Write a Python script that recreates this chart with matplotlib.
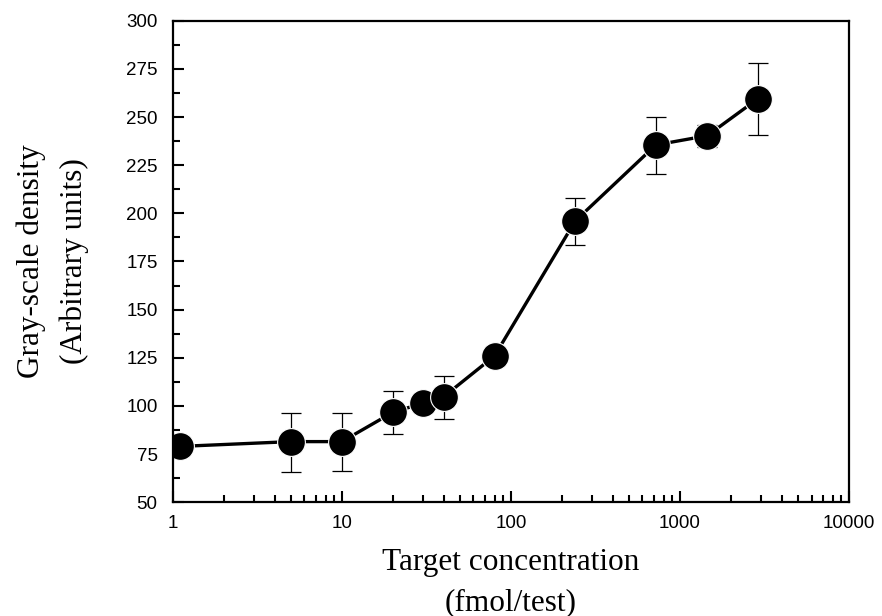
import matplotlib.pyplot as plt
from matplotlib.ticker import MultipleLocator, LogLocator, NullFormatter

conc = [1.1, 5, 10, 20, 30, 40, 80, 240, 720, 1450, 2900]
density = [79, 81.5, 81.5, 96.7, 101.4, 104.8, 126, 196, 235.5, 240.3, 259.6]
err_lo = [0, 15.6, 15.5, 11.4, 0, 11.6, 4.5, 12.2, 14.9, 6, 18.7]
err_hi = [0, 15, 15, 11.1, 0, 10.9, 4.5, 11.8, 14.4, 5.5, 18.6]

y_ticks = [50, 75, 100, 125, 150, 175, 200, 225, 250, 275, 300]
x_ticks = [1, 10, 100, 1000, 10000]
x_labels = ['1', '10', '100', '1000', '10000']

fig = plt.figure(figsize=(8.82, 6.16), dpi=100)
ax = fig.add_axes([0.196, 0.1846, 0.7666, 0.7818])

# error bars sit behind the markers
ax.errorbar(conc, density, yerr=[err_lo, err_hi], fmt='none', ecolor='black',
            elinewidth=0.9, capsize=7, capthick=0.9, zorder=1)
ax.plot(conc, density, '-', color='black', lw=2.4, marker='o', markersize=20,
        markerfacecolor='black', markeredgecolor='white', markeredgewidth=0.8, zorder=2)

ax.set_xscale('log')
ax.set_xlim(1, 10000)
ax.set_ylim(50, 300)
ax.set_xticks(x_ticks)
ax.set_xticklabels(x_labels)
ax.xaxis.set_minor_locator(LogLocator(base=10, subs=range(2, 10)))
ax.xaxis.set_minor_formatter(NullFormatter())
ax.set_yticks(y_ticks)
ax.yaxis.set_minor_locator(MultipleLocator(12.5))

for s in ax.spines.values():
    s.set_linewidth(1.6)

ax.tick_params(which='both', direction='in', top=False, right=False, width=1.5)
ax.tick_params(axis='y', which='major', length=8, labelsize=13.5, pad=11)
ax.tick_params(axis='x', which='major', length=8, labelsize=13.5, pad=9)
ax.tick_params(which='minor', length=5)
for lbl in ax.get_xticklabels() + ax.get_yticklabels():
    lbl.set_fontfamily('Liberation Sans')

ax.set_xlabel('Target concentration\n(fmol/test)', fontfamily='Liberation Serif',
              fontsize=22.5, labelpad=12, linespacing=1.5)
ax.set_ylabel('Gray-scale density\n(Arbitrary units)', fontfamily='Liberation Serif',
              fontsize=22.5, labelpad=27, linespacing=1.6)

plt.savefig('out.png', dpi=100)
